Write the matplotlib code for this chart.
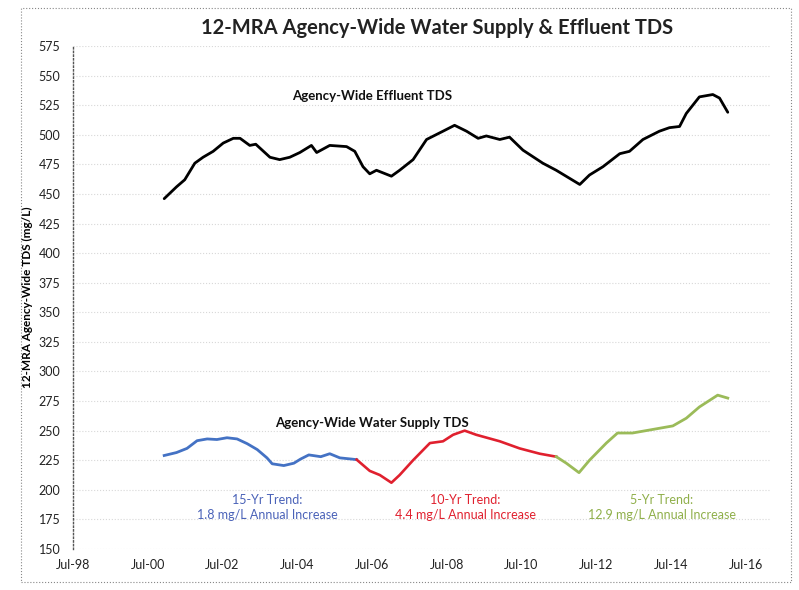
import matplotlib
matplotlib.use("Agg")
import matplotlib.pyplot as plt
from matplotlib.patches import Rectangle

# ---- data (decimal years, mg/L) ----
eff_t = [2000.94, 2001.27, 2001.49, 2001.76, 2001.98, 2002.25, 2002.52, 2002.79, 2002.97,
         2003.23, 2003.39, 2003.77, 2004.03, 2004.30, 2004.57, 2004.88, 2005.02, 2005.37,
         2005.82, 2006.04, 2006.26, 2006.44, 2006.62, 2007.02, 2007.24, 2007.60, 2007.96,
         2008.40, 2008.71, 2009.03, 2009.34, 2009.56, 2009.92, 2010.18, 2010.54, 2011.07,
         2011.43, 2012.06, 2012.32, 2012.68, 2013.13, 2013.39, 2013.75, 2014.19, 2014.46,
         2014.73, 2014.91, 2015.26, 2015.62, 2015.80, 2016.02]
eff_v = [446, 456, 462, 476, 481, 486, 493, 497, 497,
         491, 492, 481, 479, 481, 485, 491, 485, 491,
         490, 486, 473, 467, 470, 465, 470, 479, 496,
         503, 508, 503, 497, 499, 496, 498, 487, 476,
         470, 458, 466, 473, 484, 486, 496, 503, 506,
         507, 518, 532, 534, 531, 519]

ws15_t = [2000.94, 2001.27, 2001.55, 2001.82, 2002.09, 2002.35, 2002.62, 2002.89, 2003.16,
          2003.43, 2003.69, 2003.83, 2004.14, 2004.41, 2004.59, 2004.81, 2005.13, 2005.37,
          2005.64, 2005.95, 2006.09]
ws15_v = [229, 231.5, 235, 241.5, 243, 242.5, 244, 243, 239,
          234, 227, 222, 220.5, 222.5, 226, 229.5, 228, 230.5,
          227, 226, 225.5]

ws10_t = [2006.09, 2006.44, 2006.71, 2007.02, 2007.24, 2007.60, 2008.05, 2008.40, 2008.67,
          2008.98, 2009.29, 2009.92, 2010.45, 2010.99, 2011.43]
ws10_v = [225.5, 216, 212.5, 206, 212.5, 225, 239.5, 241, 246.5,
          250, 246.5, 241, 235, 230.5, 228]

ws5_t = [2011.43, 2011.70, 2012.04, 2012.32, 2012.77, 2013.07, 2013.47, 2014.01, 2014.55,
         2014.91, 2015.26, 2015.75, 2016.02]
ws5_v = [228, 222.5, 214.5, 225, 239.5, 248, 248, 251, 254,
         260.5, 270, 280, 277.5]

x_ticks = [1998.5 + 2 * i for i in range(10)]
x_labels = ["Jul-98", "Jul-00", "Jul-02", "Jul-04", "Jul-06",
            "Jul-08", "Jul-10", "Jul-12", "Jul-14", "Jul-16"]
y_ticks = list(range(150, 576, 25))

FONT = ["Lato", "DejaVu Sans"]
plt.rcParams["font.family"] = FONT

fig = plt.figure(figsize=(7.99, 5.90), dpi=100)
fig.patch.set_facecolor("white")
ax = fig.add_axes([73 / 799, 1 - 549 / 590, 697 / 799, 503 / 590])

ax.plot(eff_t, eff_v, color="black", lw=2.0, solid_capstyle="round", zorder=3)
ax.plot(ws15_t, ws15_v, color="#4472C4", lw=2.0, zorder=3)
ax.plot(ws10_t, ws10_v, color="#E0202E", lw=1.9, zorder=3)
ax.plot(ws5_t, ws5_v, color="#9BBB59", lw=2.0, zorder=3)

ax.set_xlim(1998.5, 2017.15)
ax.set_ylim(150, 575)
ax.set_xticks(x_ticks)
ax.set_xticklabels(x_labels)
ax.set_yticks(y_ticks)
ax.tick_params(axis="both", length=0, labelsize=9, colors="#222222")
ax.tick_params(axis="x", pad=7)
ax.tick_params(axis="y", pad=9)
ax.grid(axis="y", color="#d8d8d8", lw=0.8, ls=":")
for s in ["top", "right", "bottom"]:
    ax.spines[s].set_visible(False)
ax.spines["left"].set_color("#555555")
ax.spines["left"].set_linestyle(":")
ax.spines["left"].set_linewidth(1.0)

ax.set_ylabel("12-MRA Agency-Wide TDS (mg/L)", fontsize=8.5, fontweight="bold", labelpad=4)

fig.text(0.547, 1 - 28 / 590, "12-MRA Agency-Wide Water Supply & Effluent TDS",
         ha="center", va="center", fontsize=14.5, fontweight="bold", color="#222222")

ax.text(2006.5, 533, "Agency-Wide Effluent TDS", ha="center", va="center",
        fontsize=9.5, fontweight="bold", color="#111111")
ax.text(2006.5, 256.5, "Agency-Wide Water Supply TDS", ha="center", va="center",
        fontsize=9.5, fontweight="bold", color="#111111")
ax.text(2003.7, 185, "15-Yr Trend:\n1.8 mg/L Annual Increase", ha="center", va="center",
        fontsize=9, color="#4a62b8", linespacing=1.3)
ax.text(2009.0, 185, "10-Yr Trend:\n4.4 mg/L Annual Increase", ha="center", va="center",
        fontsize=9, color="#E0202E", linespacing=1.3)
ax.text(2014.25, 185, "5-Yr Trend:\n12.9 mg/L Annual Increase", ha="center", va="center",
        fontsize=9, color="#8faf4a", linespacing=1.3)

fig.patches.append(Rectangle((21 / 799, 1 - 582 / 590), 770 / 799, 574 / 590,
                             transform=fig.transFigure, fill=False,
                             edgecolor="#888888", lw=0.8, ls=":"))

fig.savefig("out.png", dpi=100)
